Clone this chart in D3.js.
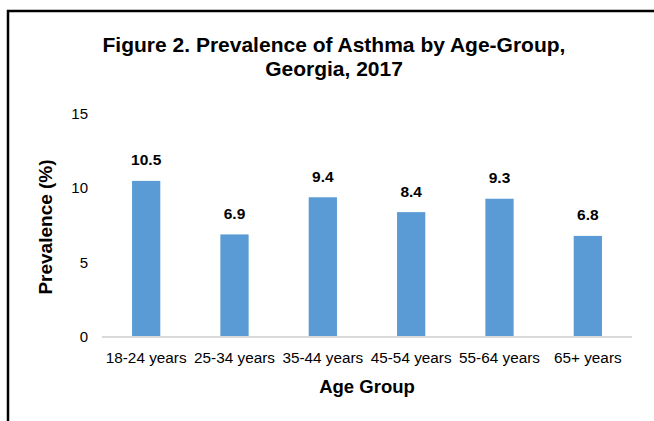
<!DOCTYPE html>
<html>
<head>
<meta charset="utf-8">
<script src="https://cdn.jsdelivr.net/npm/d3@7"></script>
<style>
  body { margin: 0; background: #fff; }
  text { font-family: "Liberation Sans", Arial, sans-serif; }
</style>
</head>
<body>
<div id="chart"></div>
<script>
var ageGroups = ["18-24 years", "25-34 years", "35-44 years", "45-54 years", "55-64 years", "65+ years"];
var prevalence = [10.5, 6.9, 9.4, 8.4, 9.3, 6.8];
var yTicks = [0, 5, 10, 15];
var titleLines = ["Figure 2. Prevalence of Asthma by Age-Group,", "Georgia, 2017"];

var width = 654, height = 421;
var svg = d3.select("#chart").append("svg")
  .attr("width", width)
  .attr("height", height);

// frame (only top and left edges show in the crop)
svg.append("rect")
  .attr("x", 8).attr("y", 11)
  .attr("width", 700).attr("height", 500)
  .attr("fill", "none")
  .attr("stroke", "#000")
  .attr("stroke-width", 2.5);

var x = d3.scaleBand().domain(ageGroups).range([102, 632]).paddingInner(0.68).paddingOuter(0.34);
var y = d3.scaleLinear().domain([0, 15]).range([337, 114]);

// title
svg.selectAll(".title").data(titleLines).enter().append("text")
  .attr("class", "title")
  .attr("x", 334)
  .attr("y", function(d, i) { return 52 + i * 24; })
  .attr("text-anchor", "middle")
  .style("font-size", "21px")
  .style("font-weight", "bold")
  .text(function(d) { return d; });

// y tick labels
svg.selectAll(".ytick").data(yTicks).enter().append("text")
  .attr("class", "ytick")
  .attr("x", 88)
  .attr("y", function(d) { return y(d) + 5; })
  .attr("text-anchor", "end")
  .style("font-size", "15px")
  .attr("fill", "#000")
  .text(function(d) { return d; });

// bars
svg.selectAll(".bar").data(prevalence).enter().append("rect")
  .attr("class", "bar")
  .attr("x", function(d, i) { return x(ageGroups[i]); })
  .attr("y", function(d) { return y(d); })
  .attr("width", x.bandwidth())
  .attr("height", function(d) { return y(0) - y(d); })
  .attr("fill", "#5b9bd5");

// baseline
svg.append("line")
  .attr("x1", 102).attr("x2", 632)
  .attr("y1", y(0)).attr("y2", y(0))
  .attr("stroke", "#d9d9d9")
  .attr("stroke-width", 2);

// value labels
svg.selectAll(".val").data(prevalence).enter().append("text")
  .attr("class", "val")
  .attr("x", function(d, i) { return x(ageGroups[i]) + x.bandwidth() / 2; })
  .attr("y", function(d) { return y(d) - 15.5; })
  .attr("text-anchor", "middle")
  .style("font-size", "15.5px")
  .style("font-weight", "bold")
  .text(function(d) { return d.toFixed(1); });

// x category labels
svg.selectAll(".xlab").data(ageGroups).enter().append("text")
  .attr("class", "xlab")
  .attr("x", function(d) { return x(d) + x.bandwidth() / 2; })
  .attr("y", 363)
  .attr("text-anchor", "middle")
  .style("font-size", "15.3px")
  .text(function(d) { return d; });

// axis titles
svg.append("text")
  .attr("x", 367).attr("y", 393)
  .attr("text-anchor", "middle")
  .style("font-size", "18.5px")
  .style("font-weight", "bold")
  .text("Age Group");

svg.append("text")
  .attr("transform", "translate(52,227) rotate(-90)")
  .attr("text-anchor", "middle")
  .style("font-size", "19px")
  .style("font-weight", "bold")
  .text("Prevalence (%)");
</script>
</body>
</html>
